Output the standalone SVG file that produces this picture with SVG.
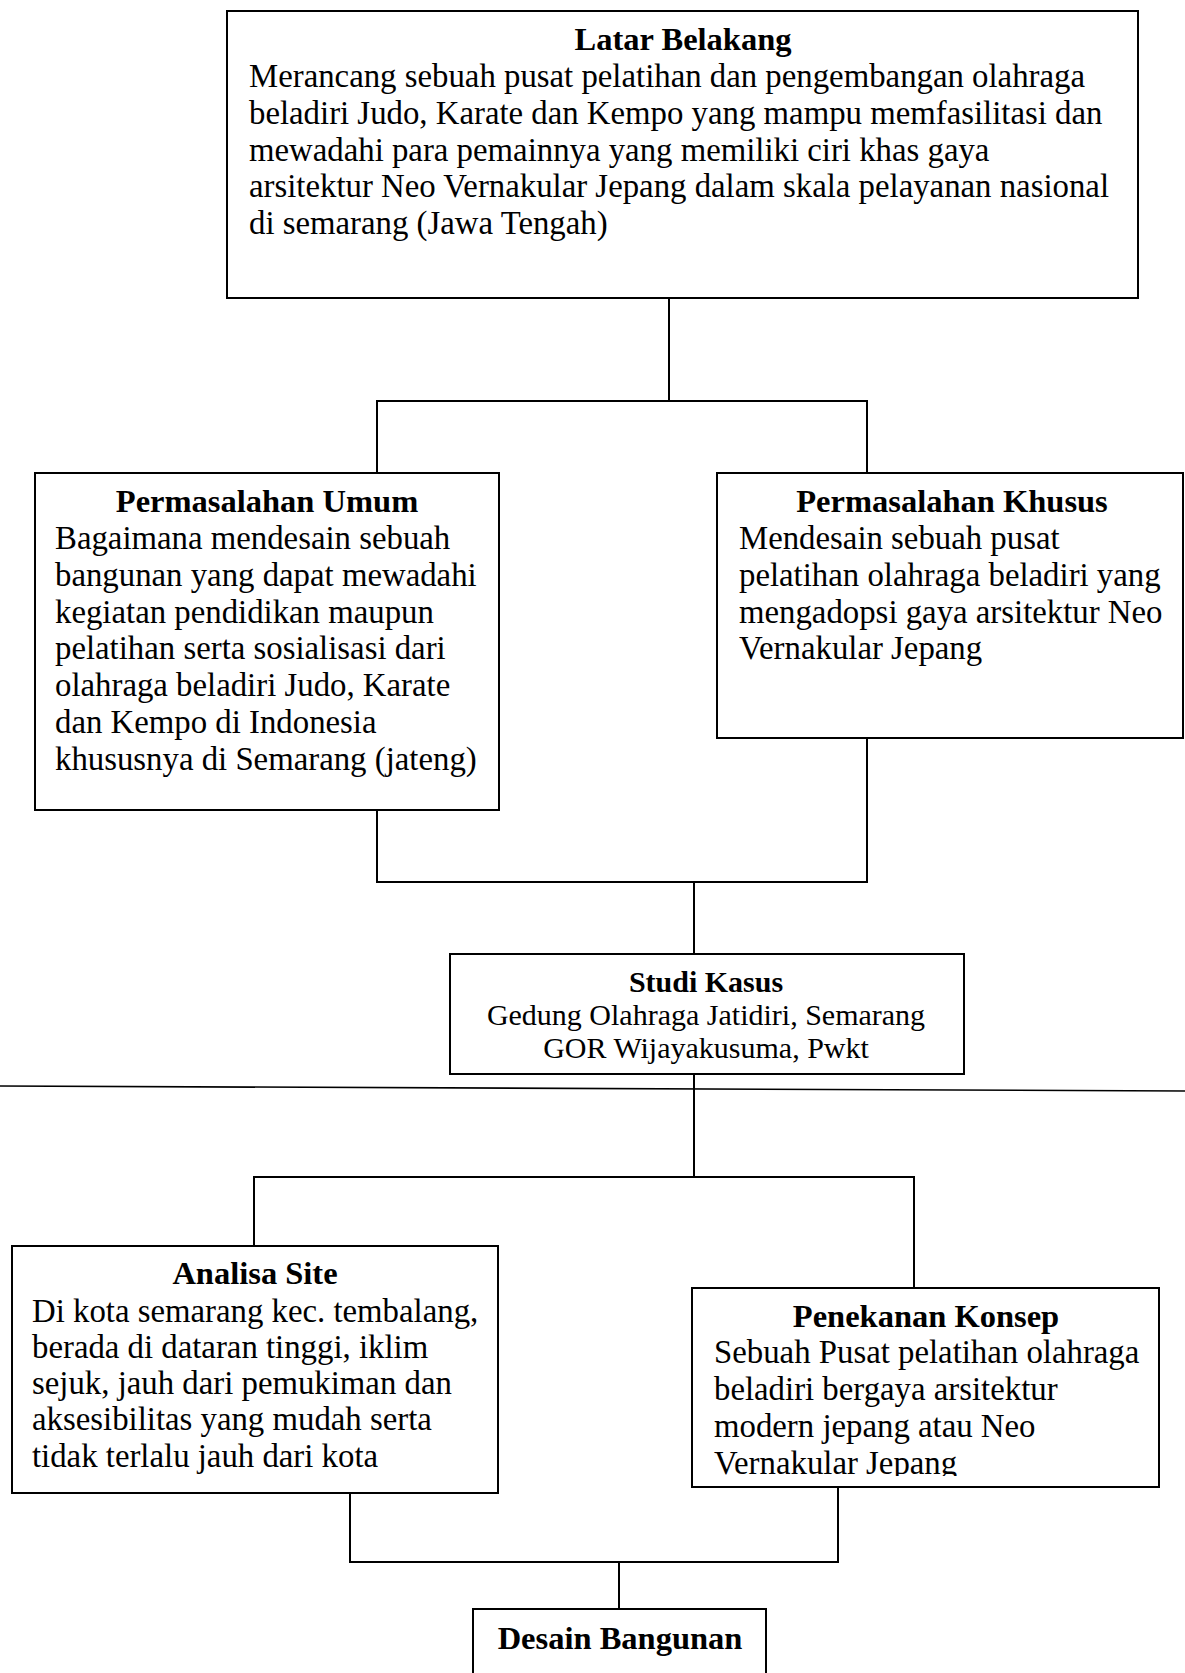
<svg xmlns="http://www.w3.org/2000/svg" width="1185" height="1673" viewBox="0 0 1185 1673">
<style>
.box{fill:#fff;stroke:#000;stroke-width:2}
.ln{fill:none;stroke:#000;stroke-width:2}
text{font-family:"Liberation Serif","Times New Roman",serif;fill:#000}
.t{font-size:32.5px;font-weight:bold;text-anchor:middle}
.b{font-size:32.8px}
.st{font-size:30px;font-weight:bold;text-anchor:middle}
.sb{font-size:30px;text-anchor:middle}
</style>
<defs>
<clipPath id="pkclip"><rect x="692" y="1288" width="467" height="188"/></clipPath>
</defs>
<rect width="1185" height="1673" fill="#fff"/>
<g id="connectors">
<polyline class="ln" points="669,298 669,401"/>
<polyline class="ln" points="377,473 377,401 867,401 867,473"/>
<polyline class="ln" points="377,810 377,882 867,882 867,738"/>
<polyline class="ln" points="694,882 694,954"/>
<polyline class="ln" points="694,1074 694,1177"/>
<line x1="0" y1="1086" x2="1185" y2="1091" stroke="#000" stroke-width="1.6"/>
<polyline class="ln" points="254,1246 254,1177 914,1177 914,1288"/>
<polyline class="ln" points="350,1493 350,1562 838,1562 838,1487"/>
<polyline class="ln" points="619,1562 619,1609"/>
</g>
<g id="latar-belakang">
<rect class="box" x="227" y="11" width="911" height="287"/>
<text class="t" x="683" y="50">Latar Belakang</text>
<text class="b" x="249" y="87">Merancang sebuah pusat pelatihan dan pengembangan olahraga</text>
<text class="b" x="249" y="124">beladiri Judo, Karate dan Kempo yang mampu memfasilitasi dan</text>
<text class="b" x="249" y="161">mewadahi para pemainnya yang memiliki ciri khas gaya</text>
<text class="b" x="249" y="197">arsitektur Neo Vernakular Jepang dalam skala pelayanan nasional</text>
<text class="b" x="249" y="234">di semarang (Jawa Tengah)</text>
</g>
<g id="permasalahan-umum">
<rect class="box" x="35" y="473" width="464" height="337"/>
<text class="t" x="267" y="512">Permasalahan Umum</text>
<text class="b" x="55" y="549">Bagaimana mendesain sebuah</text>
<text class="b" x="55" y="586">bangunan yang dapat mewadahi</text>
<text class="b" x="55" y="623">kegiatan pendidikan maupun</text>
<text class="b" x="55" y="659">pelatihan serta sosialisasi dari</text>
<text class="b" x="55" y="696">olahraga beladiri Judo, Karate</text>
<text class="b" x="55" y="733">dan Kempo di Indonesia</text>
<text class="b" x="55" y="770">khususnya di Semarang (jateng)</text>
</g>
<g id="permasalahan-khusus">
<rect class="box" x="717" y="473" width="466" height="265"/>
<text class="t" x="952" y="512">Permasalahan Khusus</text>
<text class="b" x="739" y="549">Mendesain sebuah pusat</text>
<text class="b" x="739" y="586">pelatihan olahraga beladiri yang</text>
<text class="b" x="739" y="623">mengadopsi gaya arsitektur Neo</text>
<text class="b" x="739" y="659">Vernakular Jepang</text>
</g>
<g id="studi-kasus">
<rect class="box" x="450" y="954" width="514" height="120"/>
<text class="st" x="706" y="992">Studi Kasus</text>
<text class="sb" x="706" y="1025">Gedung Olahraga Jatidiri, Semarang</text>
<text class="sb" x="706" y="1058">GOR Wijayakusuma, Pwkt</text>
</g>
<g id="analisa-site">
<rect class="box" x="12" y="1246" width="486" height="247"/>
<text class="t" x="255" y="1284">Analisa Site</text>
<text class="b" x="32" y="1322">Di kota semarang kec. tembalang,</text>
<text class="b" x="32" y="1358">berada di dataran tinggi, iklim</text>
<text class="b" x="32" y="1394">sejuk, jauh dari pemukiman dan</text>
<text class="b" x="32" y="1430">aksesibilitas yang mudah serta</text>
<text class="b" x="32" y="1467">tidak terlalu jauh dari kota</text>
</g>
<g id="penekanan-konsep">
<rect class="box" x="692" y="1288" width="467" height="199"/>
<text class="t" x="926" y="1327">Penekanan Konsep</text>
<g clip-path="url(#pkclip)">
<text class="b" x="714" y="1363">Sebuah Pusat pelatihan olahraga</text>
<text class="b" x="714" y="1400">beladiri bergaya arsitektur</text>
<text class="b" x="714" y="1437">modern jepang atau Neo</text>
<text class="b" x="714" y="1474">Vernakular Jepang</text>
</g>
</g>
<g id="desain-bangunan">
<rect class="box" x="473" y="1609" width="293" height="100"/>
<text class="t" x="620" y="1649">Desain Bangunan</text>
</g>
</svg>
